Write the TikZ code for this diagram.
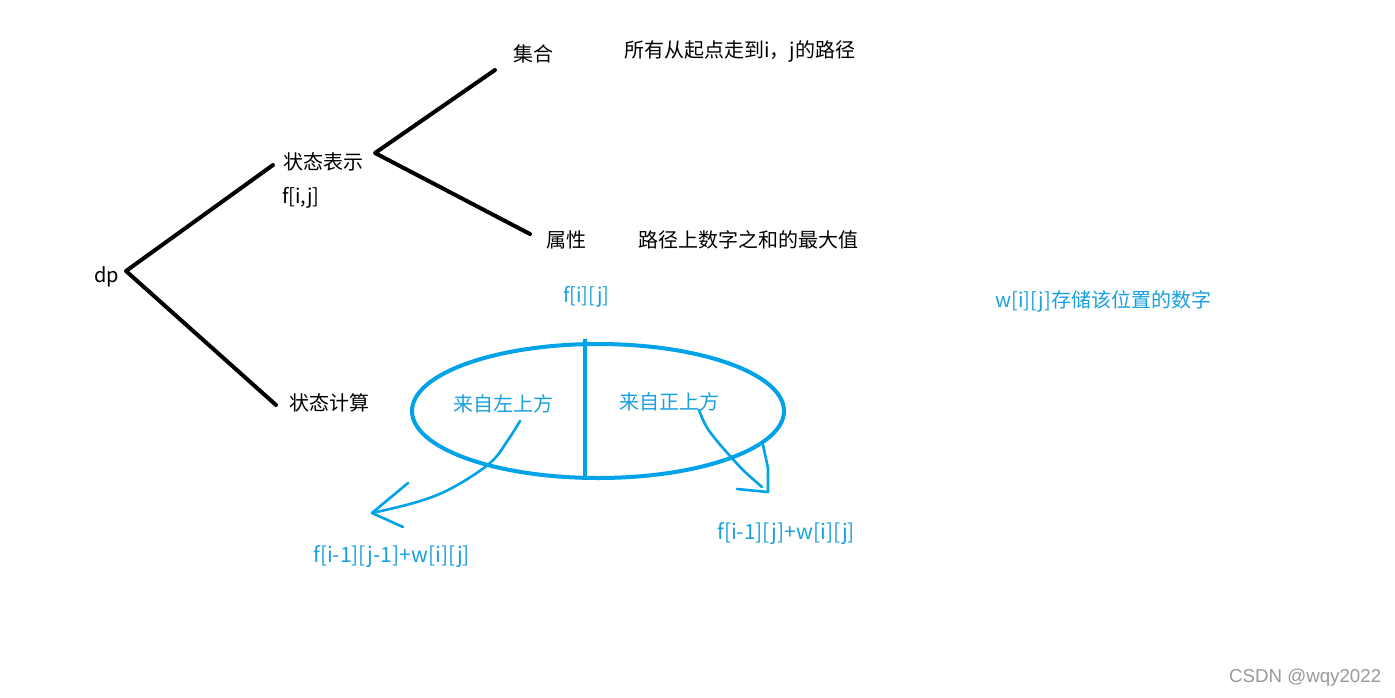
\documentclass[tikz,border=0pt]{standalone}
\usepackage{fontspec}
\setmainfont{Noto Sans CJK SC}
\newfontfamily\wmfont{Liberation Sans}
\definecolor{pblue}{HTML}{00A2E8}
\definecolor{tblue}{HTML}{1AA0E0}
\definecolor{wmgray}{HTML}{9A9A9A}
\begin{document}
\begin{tikzpicture}[x=1pt,y=-1pt,
  lbl/.style={anchor=west,inner sep=0pt,font=\fontsize{20}{20}\selectfont},
  blbl/.style={lbl,text=tblue},
  tree/.style={line width=4pt,line cap=round,line join=round,black},
  stroke/.style={line width=2.6pt,line cap=round,line join=round,pblue}]
\useasboundingbox[fill=white] (0,0) rectangle (1395,697);
% tree
\coordinate (v1) at (126,271);
\coordinate (v2) at (375,153);
\coordinate (e1) at (273,165);
\coordinate (e2) at (276,405);
\coordinate (e3) at (495,70);
\coordinate (e4) at (530,234);
\draw[tree] (e1) -- (v1) -- (e2);
\draw[tree] (e3) -- (v2) -- (e4);
\node[lbl] (dp) at (94,277) {dp};
\node[lbl] (zt) at (283,162) {状态表示};
\node[lbl] (fij) at (282,198) {f[i,j]};
\node[lbl] (zj) at (289,403) {状态计算};
\node[lbl] (jh) at (513,54) {集合};
\node[lbl] (sx) at (546,240) {属性};
\node[lbl] (jhd) at (624,51) {所有从起点走到i，j的路径};
\node[lbl] (sxd) at (638,240) {路径上数字之和的最大值};
% blue part
\node[blbl] (f) at (563,297) {f[i][j]};
\node[blbl] (w) at (995,301) {w[i][j]存储该位置的数字};
\draw[pblue,line width=4pt] (598,411) ellipse [x radius=186,y radius=67];
\coordinate (vt) at (585,339);
\coordinate (vb) at (585,480);
\draw[pblue,line width=4pt] (vt) -- (vb);
\node[blbl] (zs) at (453,404) {来自左上方};
\node[blbl] (zz) at (619,402) {来自正上方};
\coordinate (a1) at (520,421);
\coordinate (a2) at (372,513);
\draw[stroke] plot[smooth,tension=0.6] coordinates {(a1) (508,440) (490,463) (452,488) (417,502) (a2)};
\draw[stroke] (408,483) -- (a2) -- (403,527);
\coordinate (b1) at (699,410);
\coordinate (b2) at (762,487);
\draw[stroke] plot[smooth,tension=0.6] coordinates {(b1) (706,426) (717,441) (731,457) (744,471) (b2)};
\draw[stroke] (763,445) -- (768,468) -- (768,492) -- (737,489);
\node[blbl,font=\fontsize{21}{21}\selectfont] (l1) at (313,557) {f[i-1][j-1]+w[i][j]};
\node[blbl,font=\fontsize{21}{21}\selectfont] (l2) at (717,534) {f[i-1][j]+w[i][j]};
\node[anchor=west,inner sep=0pt,text=wmgray,font=\wmfont\fontsize{18.7}{18.7}\selectfont] (wm) at (1229,678) {CSDN @wqy2022};
\end{tikzpicture}
\end{document}
